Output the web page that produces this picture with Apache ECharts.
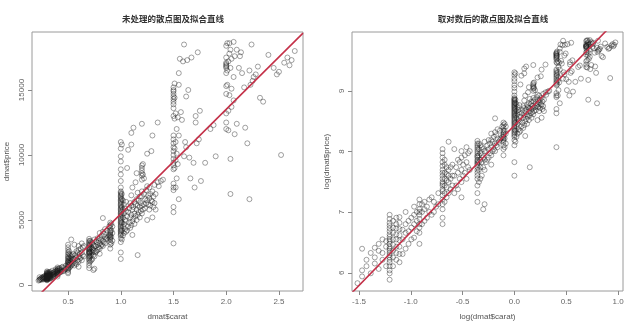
<!DOCTYPE html>
<html>
<head>
<meta charset="utf-8">
<script src="https://cdn.jsdelivr.net/npm/echarts@6/dist/echarts.min.js"></script>
<style>html,body{margin:0;padding:0;background:#fff;}#chart{width:640px;height:330px;}</style>
</head>
<body>
<div id="chart"></div>
<script>
// ---- data: [carat, price] ----
const grpSmall = [[0.22,340],[0.23,380],[0.23,420],[0.23,600],[0.24,450],[0.24,500],[0.25,400],[0.25,560],[0.26,470],[0.26,520],[0.26,610],[0.27,430],[0.27,580],[0.27,650],[0.28,500],[0.28,560],[0.28,700],[0.29,450],[0.29,620],[0.29,680]];
const grp030 = [[0.30,360],[0.30,400],[0.30,420],[0.30,450],[0.30,480],[0.30,500],[0.30,520],[0.30,540],[0.30,560],[0.30,580],[0.30,600],[0.30,620],[0.30,650],[0.30,680],[0.30,700],[0.30,730],[0.30,760],[0.30,800],[0.30,840],[0.30,880],[0.30,920],[0.30,980],[0.30,1050],
  [0.31,450],[0.31,520],[0.31,580],[0.31,640],[0.31,700],[0.31,780],[0.31,850],[0.31,950],
  [0.32,500],[0.32,560],[0.32,620],[0.32,700],[0.32,760],[0.32,840],[0.32,900],[0.32,1000],
  [0.33,480],[0.33,550],[0.33,620],[0.33,690],[0.33,750],[0.33,830],[0.33,920],[0.33,1010]];
const grp040 = [[0.34,550],[0.34,700],[0.34,820],[0.35,600],[0.35,780],[0.35,900],[0.35,1100],[0.36,650],[0.36,800],[0.36,950],[0.37,700],[0.37,850],[0.37,1000],[0.38,720],[0.38,900],[0.38,1050],[0.38,1200],[0.39,800],[0.39,950],[0.39,1100],
  [0.40,650],[0.40,780],[0.40,850],[0.40,900],[0.40,980],[0.40,1050],[0.40,1100],[0.40,1150],[0.40,1250],[0.40,1350],
  [0.41,900],[0.41,1100],[0.41,1250],[0.42,950],[0.42,1150],[0.42,1300],[0.43,1000],[0.43,1200],[0.44,1100],[0.44,1350],[0.45,1050],[0.45,1400]];
const grp050 = [[0.46,1100],[0.46,1300],[0.47,1200],[0.48,1250],[0.48,1500],
  [0.50,900],[0.50,1000],[0.50,1150],[0.50,1250],[0.50,1350],[0.50,1450],[0.50,1550],[0.50,1600],[0.50,1700],[0.50,1750],[0.50,1800],[0.50,1900],[0.50,2000],[0.50,2100],[0.50,2200],[0.50,2350],[0.50,2500],[0.50,2700],[0.50,2900],[0.50,3100],
  [0.51,1300],[0.51,1500],[0.51,1700],[0.51,1900],[0.51,2100],[0.51,2400],[0.51,2600],[0.52,1400],[0.52,1650],[0.52,1850],[0.52,2050],[0.52,2300],
  [0.53,1500],[0.53,1800],[0.53,2000],[0.53,2200],[0.53,3500],[0.54,1600],[0.54,1900],[0.54,2300],[0.55,1700],[0.55,2000],[0.55,2400]];
const grp060 = [[0.56,1500],[0.56,2000],[0.56,3100],[0.57,1700],[0.57,2300],[0.58,1600],[0.58,2100],[0.58,2600],[0.59,1900],[0.59,2500],
  [0.60,1400],[0.60,1800],[0.60,2200],[0.60,2700],[0.60,3000],[0.61,2000],[0.61,2400],[0.62,2100],[0.62,2800],[0.63,1900],[0.63,2500],[0.63,3200],[0.64,2300],[0.64,2900],[0.65,2200],[0.65,3000]];
const grp070 = [[0.70,1300],[0.70,1500],[0.70,1700],[0.70,1900],[0.70,2000],[0.70,2100],[0.70,2200],[0.70,2300],[0.70,2400],[0.70,2450],[0.70,2500],[0.70,2550],[0.70,2600],[0.70,2700],[0.70,2750],[0.70,2800],[0.70,2900],[0.70,3000],[0.70,3100],[0.70,3200],[0.70,3300],[0.70,3400],[0.70,3550],
  [0.71,1800],[0.71,2200],[0.71,2500],[0.71,2800],[0.71,3100],[0.71,3400],[0.72,1900],[0.72,2300],[0.72,2600],[0.72,2900],[0.72,3300],
  [0.73,2000],[0.73,2500],[0.73,2800],[0.73,3200],[0.74,1150],[0.74,2300],[0.74,2700],[0.74,3100],[0.75,1250],[0.75,2200],[0.75,2600],[0.75,3000],[0.75,3500]];
const grp080 = [[0.76,2500],[0.76,3000],[0.77,2600],[0.77,3300],[0.78,2700],[0.78,3100],[0.78,3600],[0.79,2900],[0.79,3400],
  [0.80,2400],[0.80,2800],[0.80,3200],[0.80,3600],[0.80,4000],[0.81,3000],[0.81,3500],[0.82,3100],[0.82,3800],[0.83,3000],[0.83,3400],[0.83,4100],[0.83,5150],
  [0.84,3300],[0.84,3900],[0.85,3200],[0.85,3700],[0.85,4300],[0.86,3500],[0.87,3600],[0.87,4200],[0.88,3700],[0.89,3800],[0.89,4500]];
const grp090 = [[0.90,2800],[0.90,3100],[0.90,3300],[0.90,3500],[0.90,3600],[0.90,3700],[0.90,3800],[0.90,3900],[0.90,4000],[0.90,4100],[0.90,4200],[0.90,4400],[0.90,4600],[0.90,4800],
  [0.91,3200],[0.91,3700],[0.91,4200],[0.91,4700],[0.92,3400],[0.92,4000],[0.92,4500]];
const grp100 = [[1.00,2000],[1.00,2500],[1.00,3300],[1.00,3600],[1.00,3800],[1.00,3900],[1.00,4000],[1.00,4100],[1.00,4200],[1.00,4300],[1.00,4400],[1.00,4500],[1.00,4600],[1.00,4700],[1.00,4800],[1.00,4900],[1.00,5000],[1.00,5100],[1.00,5200],[1.00,5300],[1.00,5400],[1.00,5500],[1.00,5600],[1.00,5700],[1.00,5800],[1.00,5900],[1.00,6000],[1.00,6100],[1.00,6200],[1.00,6300],[1.00,6400],[1.00,6500],[1.00,6600],[1.00,6700],[1.00,6800],[1.00,6900],[1.00,7000],[1.00,7100],[1.00,7200],[1.00,7500],[1.00,8000],[1.00,8500],[1.00,8900],[1.00,9500],[1.00,9900],[1.00,10500],[1.00,11000],
  [1.01,3500],[1.01,4200],[1.01,4800],[1.01,5400],[1.01,6000],[1.01,6600],[1.01,7000],[1.01,10800],[1.02,3800],[1.02,4500],[1.02,5200],[1.02,5800],[1.02,6500],
  [1.03,4000],[1.03,4700],[1.03,5500],[1.03,6200],[1.04,4300],[1.04,5000],[1.04,5900],[1.05,4100],[1.05,4900],[1.05,5700],[1.05,6400]];
const grp120 = [[1.06,4200],[1.06,5300],[1.06,9000],[1.07,4500],[1.07,5600],[1.07,10400],[1.08,4800],[1.08,5900],[1.09,4400],[1.09,5200],[1.09,6300],
  [1.10,4600],[1.10,5400],[1.10,6100],[1.10,6900],[1.10,10800],[1.10,11700],[1.11,3850],[1.11,4900],[1.11,5800],[1.11,7500],[1.12,5100],[1.12,6000],[1.12,12100],
  [1.13,4700],[1.13,5500],[1.13,6400],[1.14,5300],[1.14,6200],[1.14,7900],[1.15,5000],[1.15,5800],[1.15,6600],[1.15,8600],[1.16,2300],[1.16,5400],[1.16,6100],[1.16,7100],
  [1.17,5600],[1.17,6500],[1.18,5200],[1.18,6000],[1.18,6800],[1.19,5700],[1.19,6300],
  [1.20,5500],[1.20,6100],[1.20,6800],[1.20,7200],[1.20,8100],[1.20,8400],[1.20,8600],[1.20,8800],[1.20,9000],[1.20,9200],[1.20,12400],
  [1.21,5800],[1.21,8500],[1.21,9300],[1.22,6200],[1.22,7000],[1.22,8200],[1.23,5900],[1.23,6600],[1.24,6300],[1.24,7300],[1.25,5000],[1.25,6500],[1.25,7600],[1.25,10100],
  [1.26,6200],[1.26,6900],[1.27,5800],[1.27,6700],[1.27,7500],[1.28,6100],[1.28,7000],[1.29,6500],[1.29,10300],[1.30,5200],[1.30,6400],[1.30,7200],[1.30,11500],
  [1.31,6000],[1.31,6800],[1.32,6300],[1.32,7700],[1.33,5800],[1.33,7000],[1.35,7900],[1.35,12500],[1.36,7600],[1.38,8000],[1.40,8100]];
const grp150 = [[1.50,3200],[1.50,5600],[1.50,6000],[1.50,7300],[1.50,7500],[1.50,7800],[1.50,8900],[1.50,9200],[1.50,9400],[1.50,9700],[1.50,10000],[1.50,10300],[1.50,10600],[1.50,10900],[1.50,11200],[1.50,11500],[1.50,13000],[1.50,13600],[1.50,13900],[1.50,14100],[1.50,14300],[1.50,14500],[1.50,14700],[1.50,14900],[1.50,15000],[1.50,15200],
  [1.51,9000],[1.51,10500],[1.51,12800],[1.51,14400],[1.51,15500],[1.52,7500],[1.52,9600],[1.52,11000],[1.52,13200],[1.53,8200],[1.53,10100],[1.53,12000],[1.54,9300],[1.54,12900],[1.55,6600],[1.55,11500],[1.55,15400],[1.55,16300]];
const grp170 = [[1.56,17400],[1.57,13300],[1.58,12700],[1.59,17200],[1.60,18500],[1.60,9900],[1.61,11000],[1.62,10600],[1.62,14500],[1.63,17300],[1.64,15000],[1.65,9800],[1.66,8200],[1.67,17500],[1.69,9400],
  [1.70,7500],[1.71,13000],[1.71,12500],[1.72,10900],[1.73,17900],[1.74,11200],[1.75,13400],[1.76,8000],[1.80,9400],[1.85,12000],[1.88,12300],[1.90,9900]];
const grp200 = [[2.00,12000],[2.00,12500],[2.00,13200],[2.00,14700],[2.00,15300],[2.00,16300],[2.00,16700],[2.00,16800],[2.00,16900],[2.00,17000],[2.00,17100],[2.00,17500],[2.00,18400],
  [2.01,15400],[2.01,16500],[2.01,18600],[2.02,11900],[2.02,13400],[2.02,17200],[2.03,14600],[2.03,17800],[2.03,18600],[2.04,7000],[2.04,9700],[2.04,16700],[2.04,18100],
  [2.05,13700],[2.05,15100],[2.05,17400],[2.07,14200],[2.07,16000],[2.07,18700],[2.08,11600],[2.08,17600],[2.10,12400],[2.10,18100]];
const grpLarge = [[2.12,16700],[2.13,17600],[2.14,17900],[2.15,16300],[2.17,15200],[2.18,12100],[2.20,10900],[2.22,6600],[2.22,16500],[2.23,15400],[2.24,18500],[2.25,15700],[2.26,16000],[2.28,16200],
  [2.30,16800],[2.32,14400],[2.35,14100],[2.40,17700],[2.45,16700],[2.48,16200],[2.50,16400],[2.52,10000],[2.55,17100],[2.58,17500],[2.60,16900],[2.62,17300],[2.65,18000]];

// fitted lines: [intercept, slope]
const fitRaw = [-2580, 8050];
const fitLog = [8.43, 1.76];

// axis ticks
const xTicksRaw = [0.5, 1.0, 1.5, 2.0, 2.5];
const yTicksRaw = [0, 5000, 10000, 15000];
const xTicksLog = [-1.5, -1.0, -0.5, 0.0, 0.5, 1.0];
const yTicksLog = [6, 7, 8, 9];

const titles = ['未处理的散点图及拟合直线', '取对数后的散点图及拟合直线'];

// ---- build ----
const rawPts = [].concat(grpSmall, grp030, grp040, grp050, grp060, grp070, grp080, grp090, grp100, grp120, grp150, grp170, grp200, grpLarge);
const logPts = rawPts.map(d => [Math.log(d[0]), Math.log(d[1])]);

const rawX = [0.158, 2.728], rawY = [-462, 19462];
const logX = [-1.567, 1.048], logY = [5.70, 9.97];
const lineRaw = rawX.map(x => [x, fitRaw[0] + fitRaw[1] * x]);
const lineLog = logX.map(x => [x, fitLog[0] + fitLog[1] * x]);

const fontLat = 'Liberation Sans, Arial, sans-serif';
const grids = [
  {left: 32, top: 32, width: 271, height: 259, show: true, borderColor: '#9a9a9a', borderWidth: 1, backgroundColor: '#fff'},
  {left: 352, top: 32, width: 271, height: 259, show: true, borderColor: '#9a9a9a', borderWidth: 1, backgroundColor: '#fff'}
];
function mkAxis(gi, range, ticks, name, isY, dec) {
  return {
    type: 'value', gridIndex: gi, min: range[0], max: range[1],
    position: isY ? 'left' : 'bottom',
    name: name, nameLocation: 'middle', nameGap: isY ? 21 : 22,
    nameTextStyle: {color: '#555', fontSize: 8, fontFamily: fontLat},
    axisLine: {show: false, onZero: false},
    axisTick: {show: true, customValues: ticks, length: 4, inside: false, lineStyle: {color: '#888'}},
    axisLabel: {show: true, customValues: ticks, color: '#666', fontSize: 8, fontFamily: fontLat,
      margin: isY ? 6 : 7, rotate: isY ? 90 : 0,
      formatter: v => dec ? Number(v).toFixed(1) : String(Math.round(v))},
    splitLine: {show: false}
  };
}
const scatterStyle = {color: 'rgba(255,255,255,0)', borderColor: 'rgba(25,25,25,0.5)', borderWidth: 1};
const lineStyle = {color: '#c43048', width: 1.6};

const option = {
  animation: false,
  backgroundColor: '#fff',
  title: [
    {text: titles[0], left: 168, top: 10, textAlign: 'center', textStyle: {fontSize: 8.5, fontWeight: 'bold', color: '#333', fontFamily: 'Noto Sans CJK SC'}},
    {text: titles[1], left: 488, top: 10, textAlign: 'center', textStyle: {fontSize: 8.5, fontWeight: 'bold', color: '#333', fontFamily: 'Noto Sans CJK SC'}}
  ],
  grid: grids,
  xAxis: [mkAxis(0, rawX, xTicksRaw, 'dmat$carat', false, true), mkAxis(1, logX, xTicksLog, 'log(dmat$carat)', false, true)],
  yAxis: [mkAxis(0, rawY, yTicksRaw, 'dmat$price', true, false), mkAxis(1, logY, yTicksLog, 'log(dmat$price)', true, false)],
  series: [
    {type: 'scatter', xAxisIndex: 0, yAxisIndex: 0, data: rawPts, symbol: 'circle', symbolSize: 5, itemStyle: scatterStyle, silent: true},
    {type: 'line', xAxisIndex: 0, yAxisIndex: 0, data: lineRaw, symbol: 'none', lineStyle: lineStyle, clip: true, silent: true},
    {type: 'scatter', xAxisIndex: 1, yAxisIndex: 1, data: logPts, symbol: 'circle', symbolSize: 5, itemStyle: scatterStyle, silent: true},
    {type: 'line', xAxisIndex: 1, yAxisIndex: 1, data: lineLog, symbol: 'none', lineStyle: lineStyle, clip: true, silent: true}
  ]
};
const chart = echarts.init(document.getElementById('chart'), null, {renderer: 'canvas'});
chart.setOption(option);
</script>
</body>
</html>
